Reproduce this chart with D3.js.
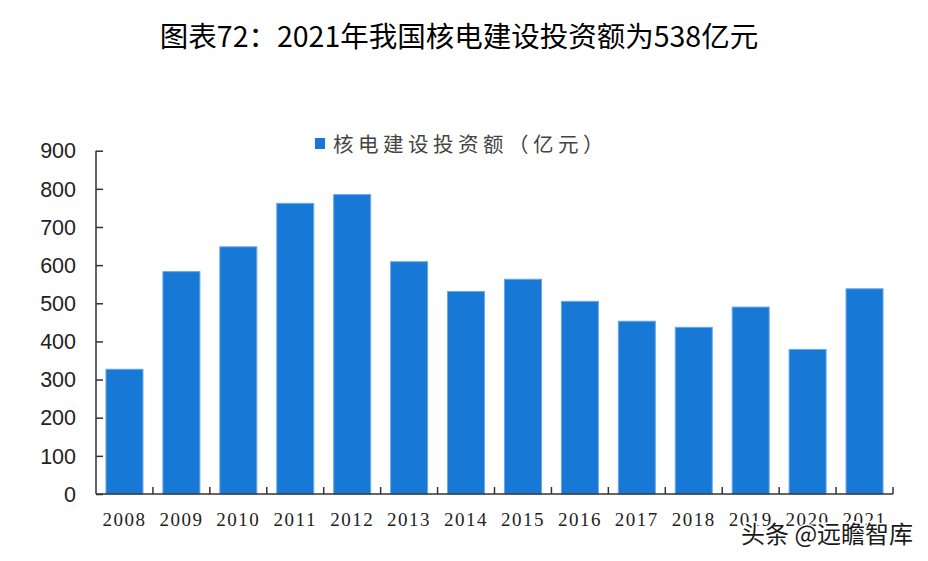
<!DOCTYPE html>
<html><head><meta charset="utf-8">
<script src="https://cdn.jsdelivr.net/npm/d3@7"></script>
<style>html,body{margin:0;padding:0;background:#fff;}svg{display:block;}</style>
</head><body>
<svg id="chart" width="928" height="561"></svg>
<script>
const titleText = "图表72：2021年我国核电建设投资额为538亿元";
const seriesName = "核电建设投资额（亿元）";
const years = ["2008","2009","2010","2011","2012","2013","2014","2015","2016","2017","2018","2019","2020","2021"];
const values = [327, 583, 648, 762, 785, 609, 531, 563, 505, 453, 437, 490, 379, 538];
const yTicks = [0,100,200,300,400,500,600,700,800,900];
const watermark = "头条 @远瞻智库";

const svg = d3.select("#chart");
const pLeft = 96, pRight = 893, pTop = 150.7, pBottom = 494;
const x = d3.scaleBand().domain(years).range([pLeft, pRight]).paddingInner(0.35).paddingOuter(0.175);
const y = d3.scaleLinear().domain([0, 900]).range([pBottom, pTop]);

svg.append("text").attr("x", 459).attr("y", 47).attr("text-anchor", "middle")
  .attr("font-family", "'Liberation Sans Narrow','Noto Sans CJK SC',sans-serif")
  .attr("font-size", 28.5).attr("fill", "#000").text(titleText);

// bars
svg.append("g").selectAll("rect").data(years).join("rect")
  .attr("x", d => x(d)).attr("width", x.bandwidth())
  .attr("y", (d,i) => y(values[i])).attr("height", (d,i) => pBottom - y(values[i]))
  .attr("fill", "#1778d6").attr("stroke", "#6aa8ea").attr("stroke-width", 1);

// y axis
const yAxis = d3.axisRight(y).tickValues(yTicks).tickSize(7).tickFormat("");
const gy = svg.append("g").attr("transform", `translate(${pLeft},0)`).call(yAxis);
gy.select(".domain").attr("d", `M0,${pTop}V${pBottom}`);
gy.selectAll("line, path").attr("stroke", "#333").attr("stroke-width", 1.5);
svg.append("g").selectAll("text").data(yTicks).join("text")
  .attr("x", 76).attr("y", d => y(d)).attr("dy", "0.36em").attr("text-anchor", "end")
  .attr("font-family", "'Liberation Sans',Arial,sans-serif").attr("font-size", 21.5).attr("fill", "#222")
  .text(d => d);

// x axis
const gx = svg.append("g");
gx.append("line").attr("x1", pLeft).attr("x2", pRight).attr("y1", pBottom).attr("y2", pBottom)
  .attr("stroke", "#333").attr("stroke-width", 1.5);
const step = x.step();
const bounds = d3.range(1, years.length + 1).map(k => x(years[0]) - x.paddingOuter()*step + k*step);
gx.selectAll(".tk").data(bounds).join("line").attr("class","tk")
  .attr("x1", d => d).attr("x2", d => d).attr("y1", pBottom).attr("y2", pBottom - 7)
  .attr("stroke", "#333").attr("stroke-width", 1.5);
gx.selectAll("text").data(years).join("text")
  .attr("x", d => x(d) + x.bandwidth()/2).attr("y", 526).attr("text-anchor", "middle")
  .attr("font-family", "'Liberation Serif','Times New Roman',serif").attr("font-size", 19)
  .attr("letter-spacing", 1.5).attr("fill", "#222").text(d => d);

// legend
svg.append("rect").attr("x", 315).attr("y", 138).attr("width", 10).attr("height", 11).attr("fill", "#1778d6");
svg.append("text").attr("x", 333).attr("y", 152)
  .attr("font-family", "'Noto Sans CJK SC',sans-serif").attr("font-size", 20.5)
  .attr("letter-spacing", 4.5).attr("fill", "#444").text(seriesName);

// watermark
svg.append("text").attr("x", 741).attr("y", 543)
  .attr("font-family", "'Noto Sans CJK SC',sans-serif").attr("font-size", 24)
  .attr("fill", "#1a1a1a").attr("stroke", "#fff").attr("stroke-width", 3).attr("paint-order", "stroke")
  .text(watermark);
</script>
</body></html>
